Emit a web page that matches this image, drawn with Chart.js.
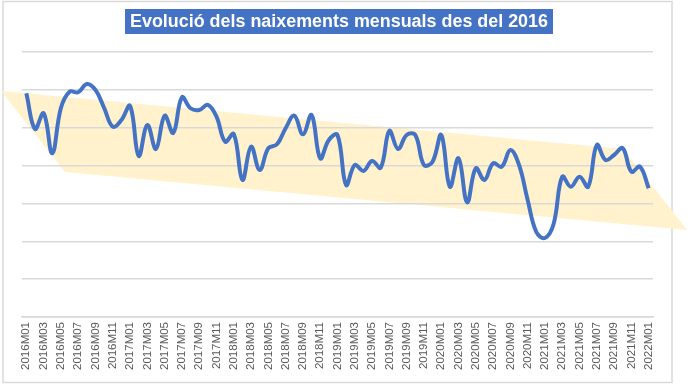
<!DOCTYPE html>
<html lang="ca">
<head>
<meta charset="UTF-8">
<title>Evolució dels naixements mensuals</title>
<script src="https://cdn.jsdelivr.net/npm/chart.js"></script>
<style>
  html, body { margin: 0; padding: 0; background: #fff; }
  #wrap { width: 688px; height: 385px; }
</style>
</head>
<body>
<div id="wrap"><canvas id="grafic" width="688" height="385"></canvas></div>
<script>
// mesos 2016M01 .. 2022M01
const mesos = [];
for (let a = 2016; a <= 2022; a++) {
    for (let m = 1; m <= 12; m++) {
        if (a === 2022 && m > 1) break;
        mesos.push(a + 'M' + String(m).padStart(2, '0'));
    }
}

// naixements mensuals (llegits del gràfic, aprox.)
const naixements = [
    5955, 5483, 5691, 5162, 5761, 5976, 5968, 6078, 5999, 5761, 5514, 5602,
    5787, 5127, 5536, 5219, 5659, 5431, 5902, 5757, 5734, 5801, 5646, 5316,
    5417, 4810, 5250, 4942, 5229, 5281, 5493, 5659, 5413, 5668, 5096, 5338,
    5404, 4744, 5008, 4929, 5061, 4972, 5457, 5219, 5404, 5404, 5008, 5052,
    5404, 4721, 5096, 4515, 4964, 4810, 5030, 4985, 5206, 5008, 4546, 4123,
    4044, 4229, 4853, 4721, 4853, 4721, 5272, 5074, 5140, 5229, 4919, 4985,
    4700
];

// banda de tendència (índex de mes, valor)
const bandaX = [-2.93, 69.06, 76.45, 4.48];
const bandaY = [5985, 5219, 4149, 4915];

const titol = 'Evolució dels naixements mensuals des del 2016';

const decoracio = {
    id: 'decoracio',
    beforeDraw(chart) {
        const ctx = chart.ctx;
        const x = chart.scales.x, y = chart.scales.y;
        ctx.save();
        ctx.fillStyle = '#ffffff';
        ctx.fillRect(0, 0, chart.width, chart.height);
        // marc
        ctx.strokeStyle = '#d9d9d9';
        ctx.lineWidth = 1.5;
        ctx.strokeRect(3, 1.5, 669, 381);
        // banda
        ctx.fillStyle = '#fff2cc';
        ctx.beginPath();
        for (let i = 0; i < bandaX.length; i++) {
            const px = x.getPixelForValue(bandaX[i]);
            const py = y.getPixelForValue(bandaY[i]);
            if (i === 0) ctx.moveTo(px, py); else ctx.lineTo(px, py);
        }
        ctx.closePath();
        ctx.fill();
        ctx.restore();
    },
    afterDraw(chart) {
        const ctx = chart.ctx;
        ctx.save();
        ctx.font = 'bold 18px "Liberation Sans", Arial, sans-serif';
        const w = ctx.measureText(titol).width;
        const target = 418;
        const sx = Math.min(1, target / w);
        const boxW = w * sx + 10;
        const cx = 339;
        ctx.fillStyle = '#4472c4';
        ctx.fillRect(cx - boxW / 2, 9, boxW, 25);
        ctx.fillStyle = '#ffffff';
        ctx.textBaseline = 'middle';
        ctx.textAlign = 'center';
        ctx.translate(cx, 22);
        ctx.scale(sx, 1);
        ctx.fillText(titol, 0, 0);
        ctx.restore();
    }
};

new Chart(document.getElementById('grafic'), {
    type: 'line',
    data: {
        labels: mesos,
        datasets: [{
            data: naixements,
            borderColor: '#4472c4',
            borderWidth: 4,
            pointRadius: 0,
            tension: 0.4,
            fill: false
        }]
    },
    options: {
        responsive: false,
        animation: false,
        layout: { padding: { left: 22, right: 35, top: 52, bottom: 0 } },
        plugins: { legend: { display: false }, tooltip: { enabled: false } },
        scales: {
            x: {
                offset: true,
                grid: { display: false, drawTicks: false },
                border: { display: true, color: '#d9d9d9', width: 1.5 },
                ticks: {
                    autoSkip: false,
                    maxRotation: 90,
                    minRotation: 90,
                    padding: 5,
                    color: '#595959',
                    font: { family: '"Liberation Sans", Arial, sans-serif', size: 11.5 },
                    callback: (v, i) => (i % 2 === 0 ? mesos[i] : '')
                },
                afterFit(s) { s.height = 68; }
            },
            y: {
                min: 3000,
                max: 6500,
                ticks: { display: false, stepSize: 500 },
                grid: { color: '#d9d9d9', lineWidth: 1.5, drawTicks: false },
                border: { display: false },
                afterFit(s) { s.width = 0; }
            }
        }
    },
    plugins: [decoracio]
});
</script>
</body>
</html>
